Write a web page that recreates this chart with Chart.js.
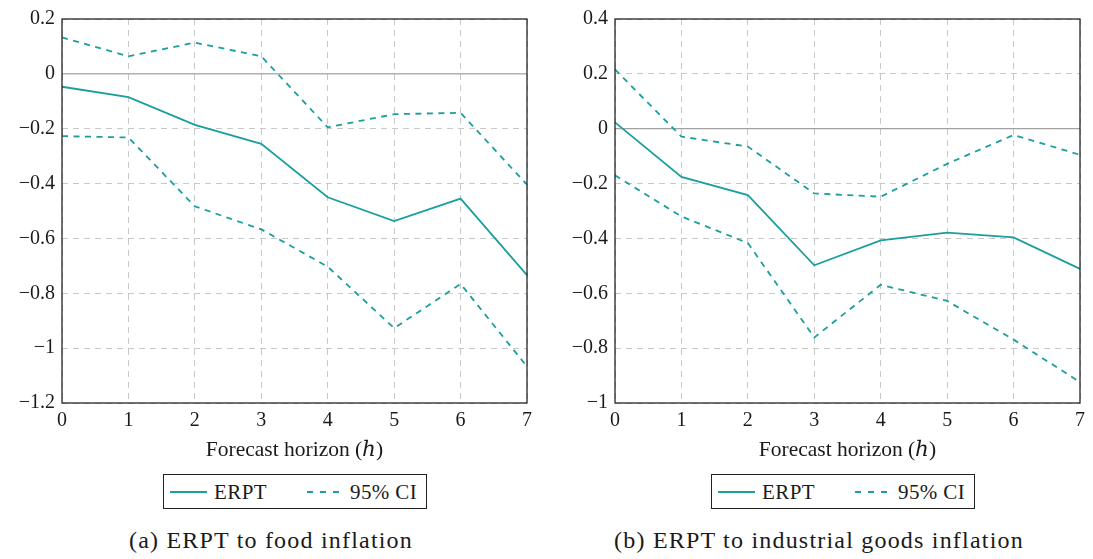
<!DOCTYPE html>
<html>
<head>
<meta charset="utf-8">
<script src="https://cdn.jsdelivr.net/npm/chart.js@4.4.0/dist/chart.umd.min.js"></script>
<style>
  body { margin: 0; background: #fff; width: 1093px; height: 559px; position: relative; overflow: hidden;
         font-family: 'Liberation Serif'; color: #1a1a1a; }
  canvas { position: absolute; top: 0; }
  .legend { position: absolute; top: 474px; width: 264px; height: 35px; box-sizing: border-box;
            border: 1px solid #222; font-size: 21px; font-family: 'Liberation Serif'; }
  .legend span { position: absolute; top: 5px; letter-spacing: 0.4px; }
  .legend i { position: absolute; top: 16px; height: 1.7px; }
  .solid { width: 37px; background: #1b9e9e; }
  .dash { width: 33px; background: repeating-linear-gradient(90deg, #1b9e9e 0 6px, transparent 6px 13px); }
  .caption { position: absolute; top: 527px; font-size: 24px; letter-spacing: 1.2px; white-space: nowrap;
             transform: translateX(-50%); font-family: 'Liberation Serif'; }
</style>
</head>
<body>
<canvas id="food" width="546" height="470" style="left:0px"></canvas>
<canvas id="ind" width="540" height="470" style="left:553px"></canvas>

<div class="legend" style="left:163px">
  <i class="solid" style="left:6px"></i><span style="left:50px">ERPT</span>
  <i class="dash" style="left:143px"></i><span style="left:186px">95% CI</span>
</div>
<div class="legend" style="left:711px">
  <i class="solid" style="left:6px"></i><span style="left:50px">ERPT</span>
  <i class="dash" style="left:143px"></i><span style="left:186px">95% CI</span>
</div>

<div class="caption" style="left:271px">(a) ERPT to food inflation</div>
<div class="caption" style="left:819px">(b) ERPT to industrial goods inflation</div>

<script>
// forecast horizon h = 0..7
const horizon = ['0', '1', '2', '3', '4', '5', '6', '7'];

// (a) food inflation
const foodErpt  = [-0.047, -0.085, -0.186, -0.255, -0.450, -0.537, -0.455, -0.734];
const foodUpper = [ 0.133,  0.064,  0.114,  0.064, -0.195, -0.147, -0.142, -0.404];
const foodLower = [-0.227, -0.232, -0.483, -0.567, -0.703, -0.927, -0.766, -1.067];
const foodRange = [-1.2, 0.2];

// (b) industrial goods inflation
const indErpt  = [ 0.023, -0.176, -0.242, -0.498, -0.407, -0.379, -0.396, -0.511];
const indUpper = [ 0.216, -0.029, -0.065, -0.236, -0.248, -0.128, -0.023, -0.095];
const indLower = [-0.170, -0.320, -0.417, -0.761, -0.569, -0.628, -0.769, -0.924];
const indRange = [-1, 0.4];

const teal = '#1b9e9e';
const gridGray = '#c8c8c8';
const font = { family: "'Liberation Serif', 'DejaVu Serif'", size: 20 };

// zero line + box frame around the plot area
const framePlugin = {
  id: 'frame',
  beforeDatasetsDraw(chart) {
    const { ctx, chartArea: a, scales: { y } } = chart;
    const y0 = y.getPixelForValue(0);
    ctx.save();
    ctx.strokeStyle = '#8a8a8a';
    ctx.lineWidth = 1;
    ctx.beginPath();
    ctx.moveTo(a.left, y0);
    ctx.lineTo(a.right, y0);
    ctx.stroke();
    ctx.restore();
  },
  afterDraw(chart) {
    const { ctx, chartArea: a } = chart;
    ctx.save();
    ctx.strokeStyle = '#262626';
    ctx.lineWidth = 1.3;
    ctx.strokeRect(a.left, a.top, a.right - a.left, a.bottom - a.top);
    ctx.restore();
  }
};

function fmt(v) {
  const r = Math.round(v * 10) / 10;
  return String(r).replace('-', '\u2212');
}

function makeChart(id, erpt, upper, lower, range, padRight) {
  const line = { borderColor: teal, backgroundColor: teal, pointRadius: 0, fill: false, tension: 0 };
  return new Chart(document.getElementById(id), {
    type: 'line',
    data: {
      labels: horizon,
      datasets: [
        { ...line, label: 'ERPT', data: erpt, borderWidth: 1.8 },
        { ...line, label: '95% CI', data: upper, borderWidth: 1.8, borderDash: [6, 5.5] },
        { ...line, label: '95% CI (lower)', data: lower, borderWidth: 1.8, borderDash: [6, 5.5] }
      ]
    },
    options: {
      responsive: false,
      animation: false,
      layout: { padding: { top: 16, right: padRight, left: 0, bottom: 0 } },
      plugins: { legend: { display: false }, tooltip: { enabled: false } },
      scales: {
        x: {
          type: 'category',
          offset: false,
          grid: { color: gridGray, lineWidth: 1, drawTicks: false, borderDash: [6, 5] },
          border: { display: false, dash: [6, 5] },
          ticks: { font, color: '#1a1a1a', padding: 6, maxRotation: 0, autoSkip: false },
          title: { display: true, text: 'Forecast horizon (\u210E)', font: { ...font, size: 21.5 },
                   color: '#1a1a1a', padding: { top: 0, bottom: 7 } },
          afterFit(s) { s.height = 67; }
        },
        y: {
          min: range[0],
          max: range[1],
          grid: {
            color: c => (c.tick && Math.abs(c.tick.value) < 1e-9) ? 'rgba(0,0,0,0)' : gridGray,
            lineWidth: 1, drawTicks: false, borderDash: [6, 5]
          },
          border: { display: false, dash: [6, 5] },
          ticks: { stepSize: 0.2, font, color: '#1a1a1a', padding: 7, callback: v => fmt(v) },
          afterFit(s) { s.width = 62; }
        }
      }
    },
    plugins: [framePlugin]
  });
}

makeChart('food', foodErpt, foodUpper, foodLower, foodRange, 19);
makeChart('ind', indErpt, indUpper, indLower, indRange, 13);
</script>
</body>
</html>
